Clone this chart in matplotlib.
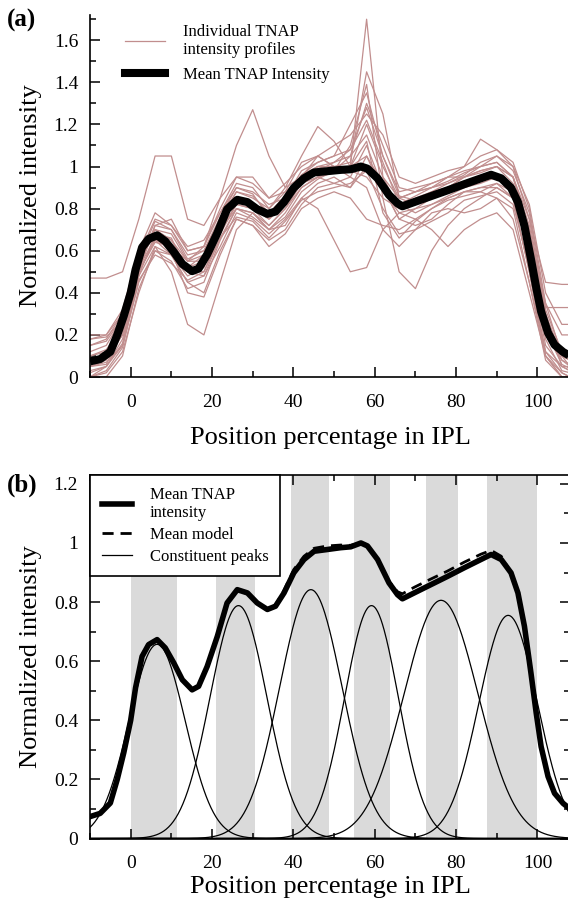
import numpy as np
import matplotlib
matplotlib.use('Agg')
import matplotlib.pyplot as plt
from matplotlib.ticker import MultipleLocator, FuncFormatter
from matplotlib.lines import Line2D

plt.rcParams['font.family'] = ['Liberation Serif', 'DejaVu Serif']

# grid used for the individual profiles (position % in IPL)
prof_x = [-10, -6, -2, 2, 6, 10, 14, 18, 22, 26, 30, 34, 38, 42, 46, 50,
          54, 58, 62, 66, 70, 74, 78, 82, 86, 90, 94, 98, 102, 106, 108]

# individual TNAP intensity profiles, read by eye
profiles = [
    [0.47, 0.47, 0.50, 0.75, 1.05, 1.05, 0.75, 0.72, 0.85, 0.95, 0.92, 0.85, 0.88, 0.95, 1.00, 0.98,
     1.05, 1.15, 0.95, 0.85, 0.88, 0.92, 0.95, 0.98, 1.00, 1.02, 0.95, 0.75, 0.45, 0.44, 0.44],
    [0.15, 0.18, 0.30, 0.55, 0.70, 0.65, 0.55, 0.58, 0.72, 0.85, 0.82, 0.75, 0.82, 0.92, 0.98, 0.97,
     1.00, 1.70, 0.95, 0.80, 0.82, 0.85, 0.88, 0.90, 0.92, 0.95, 0.90, 0.62, 0.20, 0.08, 0.06],
    [0.05, 0.08, 0.20, 0.50, 0.72, 0.75, 0.60, 0.62, 0.85, 1.10, 1.27, 1.05, 0.90, 0.95, 1.05, 1.00,
     0.95, 1.10, 0.90, 0.75, 0.80, 0.85, 0.90, 0.95, 0.98, 1.00, 0.95, 0.70, 0.30, 0.10, 0.05],
    [0.00, 0.02, 0.12, 0.40, 0.62, 0.50, 0.25, 0.20, 0.45, 0.70, 0.78, 0.70, 0.72, 0.85, 0.92, 0.95,
     0.90, 1.05, 0.88, 0.78, 0.80, 0.82, 0.85, 0.88, 0.90, 0.92, 0.85, 0.50, 0.10, 0.02, 0.00],
    [0.10, 0.12, 0.25, 0.55, 0.68, 0.62, 0.50, 0.50, 0.68, 0.82, 0.80, 0.72, 0.80, 0.90, 0.95, 0.98,
     1.10, 1.39, 0.85, 0.50, 0.42, 0.60, 0.72, 0.80, 0.85, 0.90, 0.85, 0.65, 0.33, 0.33, 0.33],
    [0.00, 0.05, 0.18, 0.48, 0.62, 0.58, 0.45, 0.48, 0.62, 0.78, 0.75, 0.68, 0.75, 0.85, 0.80, 0.65,
     0.50, 0.52, 0.70, 0.78, 0.75, 0.70, 0.62, 0.70, 0.75, 0.78, 0.70, 0.40, 0.10, 0.00, 0.00],
    [0.08, 0.10, 0.22, 0.52, 0.72, 0.70, 0.58, 0.60, 0.75, 0.88, 0.85, 0.80, 0.90, 1.05, 1.19, 1.12,
     1.00, 1.20, 1.00, 0.85, 0.88, 0.90, 0.95, 1.00, 1.13, 1.08, 1.00, 0.75, 0.30, 0.05, 0.03],
    [0.20, 0.20, 0.30, 0.58, 0.75, 0.72, 0.62, 0.65, 0.78, 0.90, 0.88, 0.82, 0.85, 0.95, 1.00, 1.02,
     1.05, 1.30, 1.10, 0.90, 0.88, 0.90, 0.93, 0.97, 1.00, 1.05, 1.00, 0.82, 0.40, 0.25, 0.25],
    [0.05, 0.07, 0.15, 0.45, 0.60, 0.55, 0.42, 0.45, 0.65, 0.80, 0.78, 0.70, 0.78, 0.90, 0.95, 0.97,
     0.98, 0.95, 0.85, 0.80, 0.85, 0.88, 0.90, 0.92, 0.95, 0.95, 0.90, 0.55, 0.15, 0.05, 0.03],
    [0.12, 0.15, 0.28, 0.60, 0.78, 0.72, 0.60, 0.62, 0.78, 0.92, 0.90, 0.80, 0.88, 1.02, 1.05, 1.00,
     1.02, 1.45, 1.25, 0.85, 0.82, 0.85, 0.90, 0.95, 1.00, 1.02, 0.95, 0.68, 0.25, 0.10, 0.08],
    [0.02, 0.05, 0.15, 0.50, 0.65, 0.58, 0.45, 0.40, 0.60, 0.75, 0.72, 0.65, 0.70, 0.82, 0.90, 0.92,
     0.95, 0.90, 0.70, 0.62, 0.70, 0.78, 0.80, 0.78, 0.80, 0.85, 0.80, 0.45, 0.08, 0.00, 0.00],
    [0.18, 0.20, 0.32, 0.60, 0.70, 0.68, 0.55, 0.55, 0.72, 0.85, 0.82, 0.78, 0.85, 0.98, 1.02, 1.05,
     1.20, 1.35, 1.05, 0.88, 0.90, 0.92, 0.95, 0.95, 0.97, 1.00, 0.92, 0.70, 0.35, 0.20, 0.20],
    [0.00, 0.00, 0.10, 0.42, 0.60, 0.58, 0.48, 0.52, 0.70, 0.82, 0.80, 0.75, 0.82, 0.92, 0.95, 0.92,
     0.90, 1.00, 0.90, 0.75, 0.72, 0.75, 0.82, 0.88, 0.90, 0.90, 0.85, 0.50, 0.10, 0.00, 0.00],
    [0.08, 0.10, 0.20, 0.50, 0.65, 0.62, 0.55, 0.62, 0.80, 0.95, 0.95, 0.85, 0.92, 1.00, 1.05, 1.10,
     1.15, 1.25, 1.15, 0.95, 0.92, 0.95, 0.98, 1.00, 1.05, 1.08, 1.02, 0.80, 0.35, 0.10, 0.08],
    [0.15, 0.17, 0.28, 0.52, 0.66, 0.60, 0.40, 0.38, 0.58, 0.75, 0.72, 0.62, 0.68, 0.80, 0.85, 0.88,
     0.85, 0.75, 0.72, 0.70, 0.75, 0.80, 0.85, 0.88, 0.88, 0.85, 0.75, 0.45, 0.12, 0.05, 0.05],
    [0.05, 0.06, 0.22, 0.55, 0.70, 0.65, 0.52, 0.58, 0.75, 0.88, 0.86, 0.78, 0.86, 0.96, 1.00, 1.00,
     1.00, 1.05, 0.92, 0.82, 0.86, 0.90, 0.92, 0.95, 0.98, 1.00, 0.95, 0.72, 0.28, 0.08, 0.05],
    [0.18, 0.19, 0.27, 0.50, 0.64, 0.62, 0.52, 0.55, 0.70, 0.80, 0.78, 0.72, 0.80, 0.92, 0.98, 1.02,
     1.08, 1.22, 1.02, 0.82, 0.78, 0.82, 0.86, 0.90, 0.93, 0.96, 0.90, 0.65, 0.22, 0.06, 0.04],
    [0.03, 0.05, 0.16, 0.48, 0.68, 0.66, 0.50, 0.48, 0.66, 0.80, 0.76, 0.70, 0.76, 0.88, 0.94, 0.98,
     1.00, 1.12, 0.78, 0.66, 0.74, 0.80, 0.84, 0.86, 0.88, 0.92, 0.88, 0.60, 0.18, 0.03, 0.02],
    [0.10, 0.13, 0.24, 0.56, 0.74, 0.70, 0.56, 0.60, 0.76, 0.90, 0.87, 0.76, 0.83, 0.96, 1.02, 1.05,
     1.08, 1.28, 1.05, 0.86, 0.84, 0.88, 0.92, 0.96, 1.02, 1.05, 0.98, 0.78, 0.32, 0.12, 0.10],
    [0.00, 0.03, 0.14, 0.46, 0.58, 0.54, 0.46, 0.50, 0.66, 0.76, 0.74, 0.66, 0.74, 0.84, 0.88, 0.90,
     0.92, 0.98, 0.80, 0.68, 0.70, 0.74, 0.78, 0.84, 0.86, 0.88, 0.82, 0.52, 0.12, 0.02, 0.00],
]

# mean TNAP intensity
mean_x = [-10, -7.5, -5, -3.3, -1.7, 0, 1.2, 2.8, 4.4, 6.5, 8.5, 10.6, 12.7, 15.1, 16.7, 18.8,
          21.3, 23.7, 26.2, 28.7, 31.1, 33.6, 35.6, 37.7, 40.1, 42.6, 45.1, 48.4, 51.6, 54.1,
          56.6, 58.2, 60.7, 63.5, 65.6, 66.8, 69.7, 73.8, 77.9, 82.0, 86.1, 88.6, 91.1, 93.5,
          95.2, 96.8, 98.4, 99.7, 100.9, 102.6, 104.2, 106.3, 108]
mean_y = [0.074, 0.085, 0.12, 0.2, 0.29, 0.40, 0.51, 0.616, 0.656, 0.673, 0.645, 0.594, 0.537,
          0.503, 0.515, 0.582, 0.684, 0.797, 0.842, 0.831, 0.797, 0.775, 0.786, 0.831, 0.899,
          0.944, 0.972, 0.978, 0.984, 0.987, 1.0, 0.99, 0.944, 0.865, 0.825, 0.811, 0.831, 0.859,
          0.887, 0.916, 0.944, 0.961, 0.944, 0.899, 0.831, 0.718, 0.56, 0.424, 0.311, 0.21,
          0.153, 0.119, 0.10]
# mean model (sum of peaks), same positions as the mean
model_y = [0.074, 0.085, 0.12, 0.2, 0.29, 0.40, 0.51, 0.616, 0.656, 0.673, 0.645, 0.594, 0.537,
           0.503, 0.515, 0.582, 0.684, 0.797, 0.842, 0.831, 0.797, 0.775, 0.79, 0.84, 0.91,
           0.955, 0.982, 0.99, 0.993, 0.992, 1.0, 0.99, 0.944, 0.87, 0.835, 0.828, 0.85, 0.878,
           0.905, 0.935, 0.962, 0.975, 0.955, 0.899, 0.831, 0.718, 0.56, 0.424, 0.311, 0.21,
           0.153, 0.119, 0.10]

# constituent gaussian peaks
peak_center = [6.5, 26.5, 44.3, 59.2, 76.3, 92.8]
peak_height = [0.657, 0.788, 0.842, 0.788, 0.806, 0.755]
peak_sigma = [6.9, 7.0, 7.7, 6.6, 9.1, 7.2]

# shaded sublamina bands
band_lo = [0, 21, 39.5, 55, 72.7, 87.5]
band_hi = [11.5, 30.5, 48.7, 63.8, 80.5, 100]

W, H = 568, 898
pink = '#c18e8e'
fmt = FuncFormatter(lambda v, p: '%g' % round(v, 2))


def style_axis(ax, ymax, full_box, xlab_y):
    ax.set_xlim(-10, 108)
    ax.set_ylim(0, ymax)
    ax.xaxis.set_major_locator(MultipleLocator(20))
    ax.xaxis.set_minor_locator(MultipleLocator(10))
    ax.yaxis.set_major_locator(MultipleLocator(0.2))
    ax.yaxis.set_minor_locator(MultipleLocator(0.1))
    ax.xaxis.set_major_formatter(fmt)
    ax.yaxis.set_major_formatter(fmt)
    ax.tick_params(which='both', direction='in', width=1.1, labelsize=14,
                   top=full_box, right=full_box)
    ax.tick_params(which='major', length=7)
    ax.tick_params(which='minor', length=4)
    ax.tick_params(axis='x', which='major', pad=12)
    ax.tick_params(axis='y', which='major', pad=8.5)
    for s in ax.spines.values():
        s.set_linewidth(1.2)
    if not full_box:
        ax.spines['top'].set_visible(False)
        ax.spines['right'].set_visible(False)
    ax.set_xlabel('Position percentage in IPL', fontsize=19)
    ax.set_ylabel('Normalized intensity', fontsize=19)
    ax.xaxis.set_label_coords(0.5, xlab_y)
    ax.yaxis.set_label_coords(-0.1, 0.5)


fig = plt.figure(figsize=(W / 100, H / 100), dpi=100)

# panel (a)
ax_a = fig.add_axes([90 / W, 1 - 377 / H, 480 / W, 362 / H])
for prof in profiles:
    ax_a.plot(prof_x, prof, color=pink, lw=0.9, zorder=2)
ax_a.plot(mean_x, mean_y, color='black', lw=5.8, solid_capstyle='butt', zorder=3)
style_axis(ax_a, 1.72, False, -0.137)
h_a = [Line2D([], [], color=pink, lw=0.9), Line2D([], [], color='black', lw=5.8)]
ax_a.legend(h_a, ['Individual TNAP\nintensity profiles', 'Mean TNAP Intensity'],
            loc='upper left', bbox_to_anchor=(125 / W, 1 - 24 / H),
            bbox_transform=fig.transFigure, frameon=False, fontsize=12,
            borderpad=0, borderaxespad=0, handlelength=2.4, handletextpad=1.1,
            labelspacing=0.5)
fig.text(7 / W, 1 - 20 / H, '(a)', fontsize=18, fontweight='bold', va='center')

# panel (b)
ax_b = fig.add_axes([90 / W, 1 - 838.5 / H, 480 / W, 363.5 / H])
for lo, hi in zip(band_lo, band_hi):
    ax_b.axvspan(lo, hi, color='#dadada', lw=0, zorder=0)
xx = np.linspace(-10, 108, 600)
for c, a, s in zip(peak_center, peak_height, peak_sigma):
    ax_b.plot(xx, a * np.exp(-(xx - c) ** 2 / (2 * s ** 2)), color='black', lw=0.9, zorder=2)
ax_b.plot(mean_x, model_y, color='black', lw=2.0, ls=(0, (4, 2.5)), zorder=3)
ax_b.plot(mean_x, mean_y, color='black', lw=4.0, zorder=4)
style_axis(ax_b, 1.23, True, -0.103)
h_b = [Line2D([], [], color='black', lw=4.0),
       Line2D([], [], color='black', lw=2.0, ls=(0, (4, 2.5))),
       Line2D([], [], color='black', lw=0.9)]
leg = ax_b.legend(h_b, ['Mean TNAP\nintensity', 'Mean model', 'Constituent peaks'],
                  loc='upper left', borderaxespad=0, fontsize=12, fancybox=False,
                  framealpha=1, edgecolor='black', handlelength=1.8, handletextpad=1.1,
                  borderpad=0.7, labelspacing=0.35)
leg.get_frame().set_linewidth(1.2)
leg.set_zorder(5)
fig.text(7 / W, 1 - 485 / H, '(b)', fontsize=18, fontweight='bold', va='center')

fig.savefig('out.png', dpi=100)
